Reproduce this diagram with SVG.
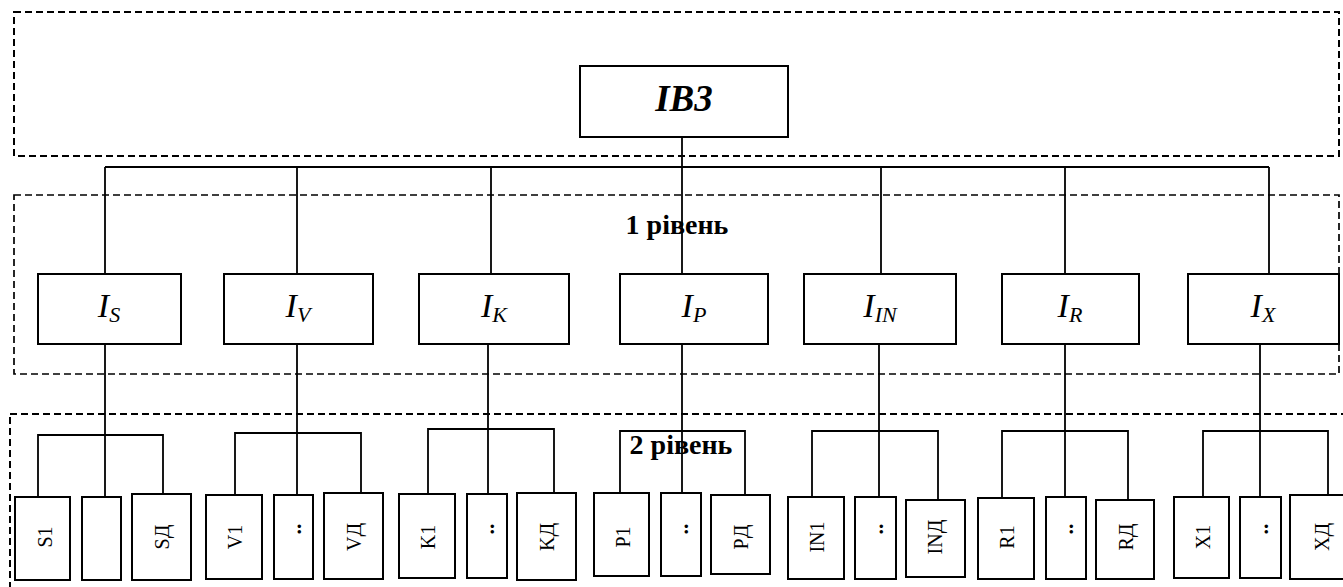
<svg xmlns="http://www.w3.org/2000/svg" width="1343" height="587" viewBox="0 0 1343 587">
<style>
.zone{fill:none;stroke:#000;stroke-width:2;stroke-dasharray:7 4}
.box{fill:#fff;stroke:#000;stroke-width:2}
.ln{fill:none;stroke:#000;stroke-width:1.8}
.t{font-family:"Liberation Serif","Times New Roman",serif;fill:#000}
.main{font-size:37px;font-weight:bold;font-style:italic}
.lvl{font-size:28px;font-weight:bold}
.i1{font-size:34px;font-style:italic}
.sub{font-size:22px;font-style:italic}
.r{font-size:20px}
.d{font-size:22px;font-weight:bold}
</style>
<rect width="1343" height="587" fill="#fff"/>
<g id="zones">
<rect class="zone" x="14" y="12" width="1325" height="144"/>
<rect class="zone" x="14" y="195" width="1325" height="179" style="stroke-width:1.7"/>
<rect class="zone" x="10" y="414" width="1345" height="200"/>
</g>
<g id="nodes-top">
<g id="n-ib3"><rect class="box" x="580" y="66" width="208" height="71"/><text class="t main" x="684" y="111" text-anchor="middle">IB3</text></g>
</g>
<g id="labels">
<text id="lbl1" class="t lvl" x="677" y="234" text-anchor="middle">1 рівень</text>
<text id="lbl2" class="t lvl" x="681" y="454" text-anchor="middle">2 рівень</text>
</g>
<g id="connectors">
<path class="ln" d="M682 137V274"/>
<path class="ln" d="M105 167H1269"/>
<path class="ln" d="M105 167V274M297 167V274M491 167V274M881 167V274M1065 167V274M1269 167V274"/>
<path class="ln" d="M105 344V497M297 344V495M488 344V494M682 344V493M879 344V496M1065 344V498M1260 344V496"/>
<path class="ln" d="M38 497V435H163V494"/>
<path class="ln" d="M235 495V433H361V493"/>
<path class="ln" d="M428 494V429H554V493"/>
<path class="ln" d="M620 493V431H745V495"/>
<path class="ln" d="M812 497V431H938V500"/>
<path class="ln" d="M1002 498V431H1128V500"/>
<path class="ln" d="M1203 496V431H1328V495"/>
</g>
<g id="level1">
<g id="n-is"><rect class="box" x="38" y="274" width="143" height="70"/><text class="t i1" x="109" y="317" text-anchor="middle">I<tspan class="sub" dy="5">S</tspan></text></g>
<g id="n-iv"><rect class="box" x="224" y="274" width="149" height="70"/><text class="t i1" x="298" y="317" text-anchor="middle">I<tspan class="sub" dy="5">V</tspan></text></g>
<g id="n-ik"><rect class="box" x="419" y="274" width="150" height="70"/><text class="t i1" x="494" y="317" text-anchor="middle">I<tspan class="sub" dy="5">K</tspan></text></g>
<g id="n-ip"><rect class="box" x="620" y="274" width="148" height="70"/><text class="t i1" x="694" y="317" text-anchor="middle">I<tspan class="sub" dy="5">P</tspan></text></g>
<g id="n-iin"><rect class="box" x="804" y="274" width="152" height="70"/><text class="t i1" x="880" y="317" text-anchor="middle">I<tspan class="sub" dy="5">IN</tspan></text></g>
<g id="n-ir"><rect class="box" x="1002" y="274" width="137" height="70"/><text class="t i1" x="1070" y="317" text-anchor="middle">I<tspan class="sub" dy="5">R</tspan></text></g>
<g id="n-ix"><rect class="box" x="1188" y="274" width="151" height="70"/><text class="t i1" x="1263" y="317" text-anchor="middle">I<tspan class="sub" dy="5">X</tspan></text></g>
</g>
<g id="level2">
<g id="n-s1"><rect class="box" x="15" y="497" width="55" height="83"/><text class="t r" transform="translate(52 537) rotate(-90)" text-anchor="middle">S1</text></g>
<g id="n-sm"><rect class="box" x="82" y="497" width="39" height="83"/></g>
<g id="n-sd"><rect class="box" x="132" y="494" width="59" height="86"/><text class="t r" transform="translate(169 537) rotate(-90)" text-anchor="middle">SД</text></g>
<g id="n-v1"><rect class="box" x="206" y="495" width="56" height="84"/><text class="t r" transform="translate(242 537) rotate(-90)" text-anchor="middle">V1</text></g>
<g id="n-vm"><rect class="box" x="274" y="495" width="39" height="84"/><text class="t d" transform="translate(301 529) rotate(-90)" text-anchor="middle">..</text></g>
<g id="n-vd"><rect class="box" x="324" y="493" width="59" height="86"/><text class="t r" transform="translate(361 537) rotate(-90)" text-anchor="middle">VД</text></g>
<g id="n-k1"><rect class="box" x="399" y="494" width="56" height="84"/><text class="t r" transform="translate(435 537) rotate(-90)" text-anchor="middle">K1</text></g>
<g id="n-km"><rect class="box" x="467" y="494" width="40" height="84"/><text class="t d" transform="translate(494 529) rotate(-90)" text-anchor="middle">..</text></g>
<g id="n-kd"><rect class="box" x="517" y="493" width="59" height="87"/><text class="t r" transform="translate(554 537) rotate(-90)" text-anchor="middle">KД</text></g>
<g id="n-p1"><rect class="box" x="594" y="493" width="55" height="83"/><text class="t r" transform="translate(630 537) rotate(-90)" text-anchor="middle">P1</text></g>
<g id="n-pm"><rect class="box" x="661" y="493" width="40" height="83"/><text class="t d" transform="translate(688 529) rotate(-90)" text-anchor="middle">..</text></g>
<g id="n-pd"><rect class="box" x="711" y="495" width="59" height="79"/><text class="t r" transform="translate(748 537) rotate(-90)" text-anchor="middle">PД</text></g>
<g id="n-in1"><rect class="box" x="788" y="497" width="56" height="82"/><text class="t r" transform="translate(824 537) rotate(-90)" text-anchor="middle">IN1</text></g>
<g id="n-inm"><rect class="box" x="855" y="497" width="41" height="82"/><text class="t d" transform="translate(883 529) rotate(-90)" text-anchor="middle">..</text></g>
<g id="n-ind"><rect class="box" x="906" y="500" width="59" height="77"/><text class="t r" transform="translate(942 537) rotate(-90)" text-anchor="middle">INД</text></g>
<g id="n-r1"><rect class="box" x="978" y="498" width="56" height="81"/><text class="t r" transform="translate(1014 537) rotate(-90)" text-anchor="middle">R1</text></g>
<g id="n-rm"><rect class="box" x="1046" y="497" width="40" height="82"/><text class="t d" transform="translate(1073 529) rotate(-90)" text-anchor="middle">..</text></g>
<g id="n-rd"><rect class="box" x="1096" y="500" width="58" height="79"/><text class="t r" transform="translate(1133 537) rotate(-90)" text-anchor="middle">RД</text></g>
<g id="n-x1"><rect class="box" x="1174" y="497" width="55" height="81"/><text class="t r" transform="translate(1210 537) rotate(-90)" text-anchor="middle">X1</text></g>
<g id="n-xm"><rect class="box" x="1240" y="497" width="41" height="81"/><text class="t d" transform="translate(1268 529) rotate(-90)" text-anchor="middle">..</text></g>
<g id="n-xd"><rect class="box" x="1290" y="495" width="60" height="84"/><text class="t r" transform="translate(1329 537) rotate(-90)" text-anchor="middle">XД</text></g>
</g>
</svg>
